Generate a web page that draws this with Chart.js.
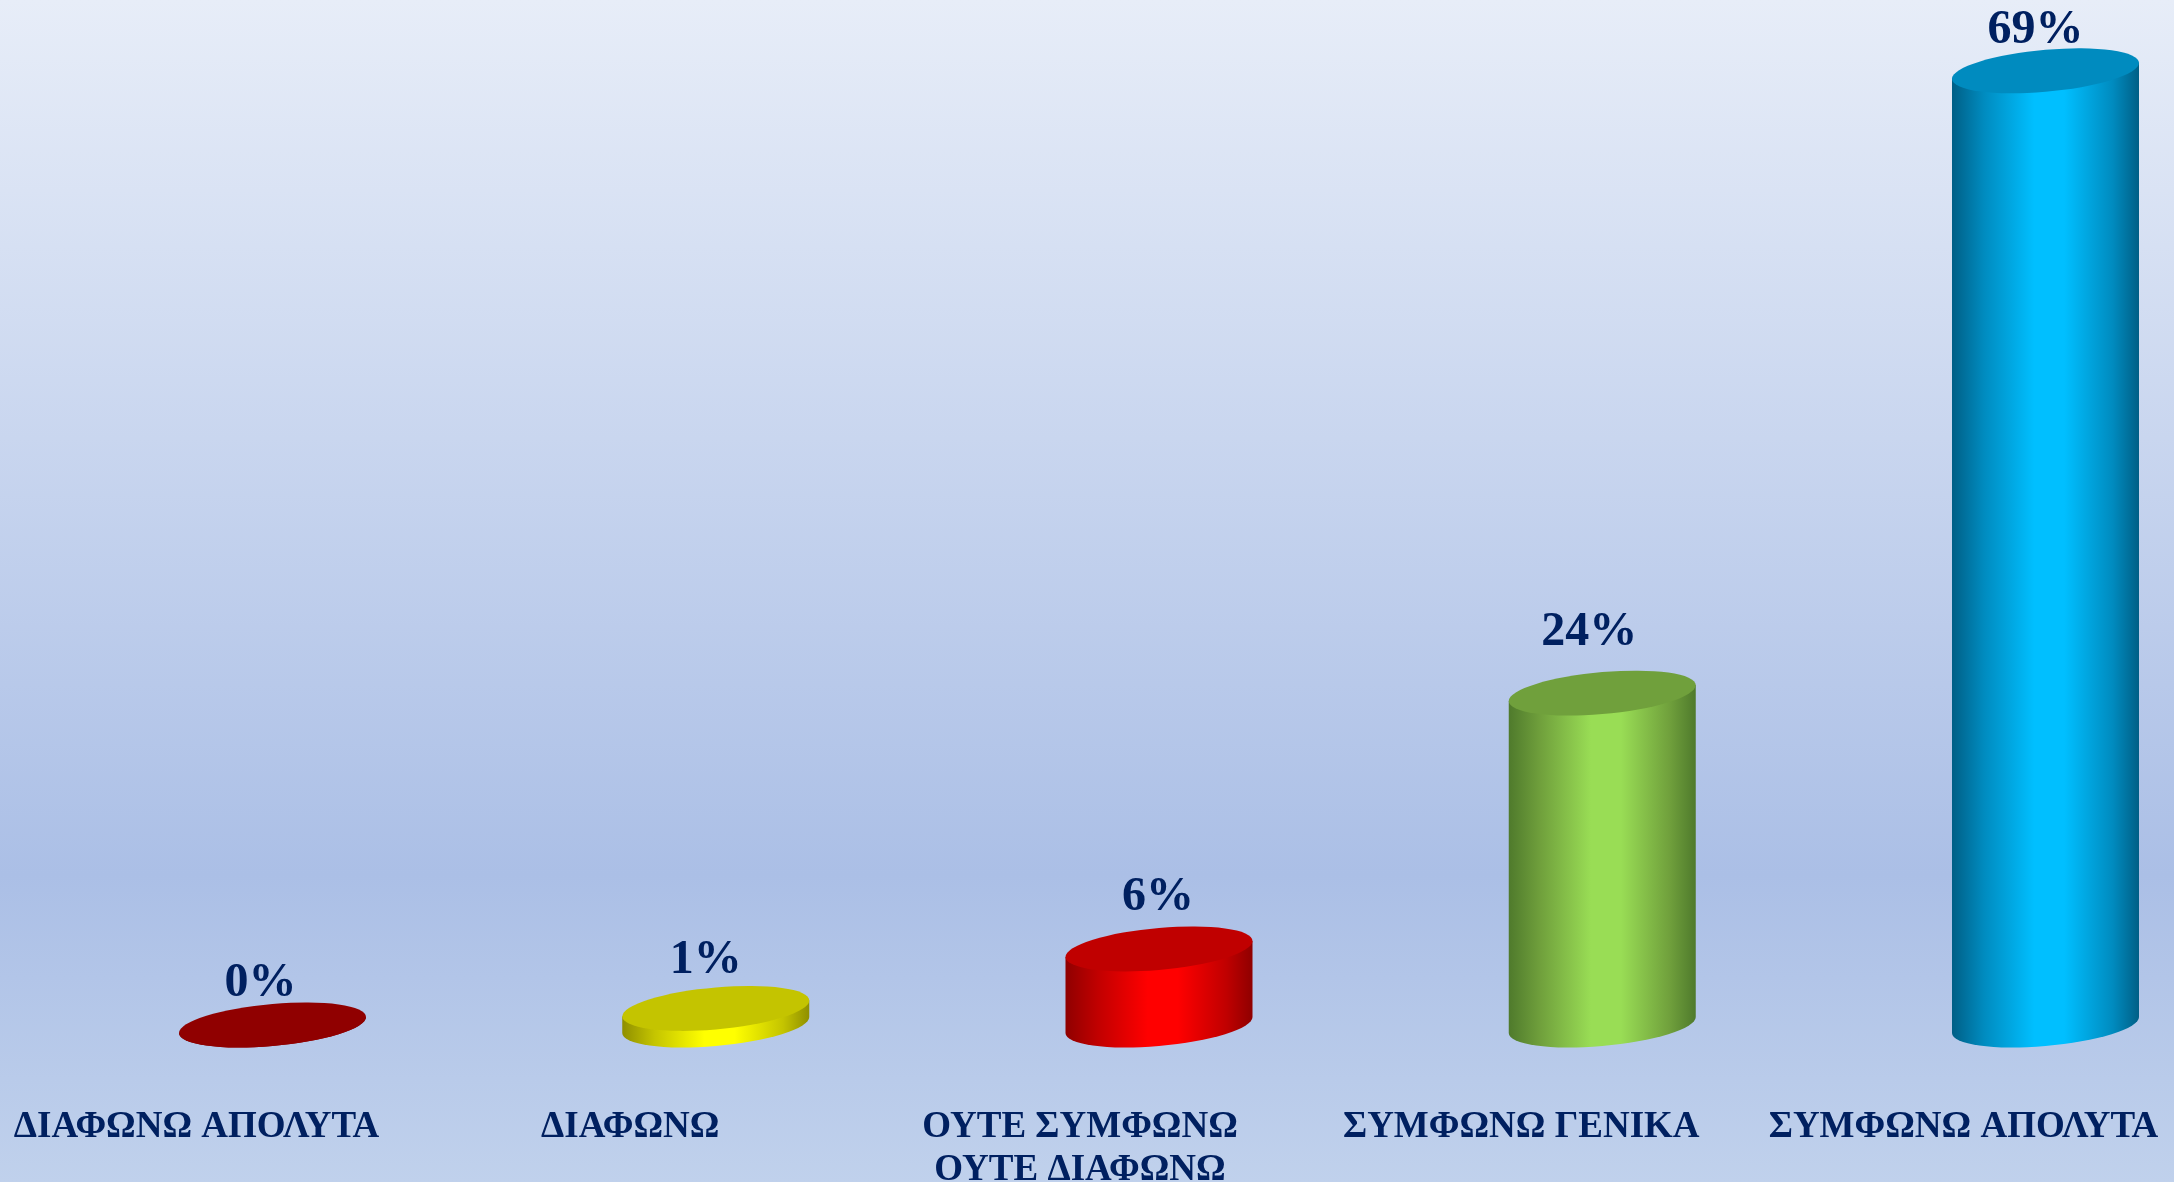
<!DOCTYPE html>
<html><head><meta charset="utf-8">
<style>html,body{margin:0;padding:0;background:#c0d1ec;overflow:hidden}canvas{display:block}</style>
<script src="https://cdn.jsdelivr.net/npm/chart.js@4/dist/chart.umd.js"></script>
</head><body><canvas id="c" width="2174" height="1182"></canvas>
<script>
const categories = ["ΔΙΑΦΩΝΩ ΑΠΟΛΥΤΑ","ΔΙΑΦΩΝΩ",["ΟΥΤΕ ΣΥΜΦΩΝΩ","ΟΥΤΕ ΔΙΑΦΩΝΩ"],"ΣΥΜΦΩΝΩ ΓΕΝΙΚΑ","ΣΥΜΦΩΝΩ ΑΠΟΛΥΤΑ"];
const values = [0, 1.2, 5.5, 24, 69];
const sideColors = ["#900000","#ffff00","#ff0000","#99dd55","#00bfff"];
const edgeColors = ["#600000","#8f8f00","#8f0000","#4f7a2c","#005f86"];
const topColors = ["#900000","#c4c400","#c00000","#70a03c","#008bbf"];
const tickNudges = [4,-5.5,1,-1,-2];
const valueLabelDx = [-12,-10,-1,-13,-10];
const valueLabelDy = [-29,-35,-39,-48,-28];
const ink = "#002060";

Chart.BarElement.prototype.draw = function (ctx) {
  const i = this.$context.dataIndex, a = this.width / 2, ry = 21;
  const shear = -8 / 93.5;
  const top = this.y, base = this.base;
  ctx.save();
  const g = ctx.createLinearGradient(this.x - a, 0, this.x + a, 0);
  g.addColorStop(0, edgeColors[i]);
  g.addColorStop(0.17, topColors[i]);
  g.addColorStop(0.44, sideColors[i]);
  g.addColorStop(0.6, sideColors[i]);
  g.addColorStop(0.86, topColors[i]);
  g.addColorStop(1, edgeColors[i]);
  ctx.save();
  ctx.transform(1, shear, 0, 1, this.x, 0);
  ctx.beginPath();
  ctx.moveTo(-a, top);
  ctx.lineTo(-a, base);
  ctx.ellipse(0, base, a, ry, 0, Math.PI, 0, true);
  ctx.lineTo(a, top);
  ctx.closePath();
  ctx.restore();
  ctx.fillStyle = g;
  ctx.fill();
  ctx.transform(1, shear, 0, 1, this.x, 0);
  ctx.beginPath();
  ctx.ellipse(0, top, a, ry, 0, 0, Math.PI * 2);
  ctx.fillStyle = topColors[i];
  ctx.fill();
  ctx.restore();
};

const background = {
  id: "background",
  beforeDraw(chart) {
    const { ctx, width, height } = chart;
    const g = ctx.createLinearGradient(0, 0, 0, height);
    g.addColorStop(0, "#e7edf8");
    g.addColorStop(0.74, "#abbfe6");
    g.addColorStop(1, "#c0d1ec");
    ctx.fillStyle = g;
    ctx.fillRect(0, 0, width, height);
  }
};
const valueLabels = {
  id: "valueLabels",
  afterDatasetsDraw(chart) {
    const { ctx } = chart;
    ctx.save();
    ctx.font = "bold 48px 'Liberation Serif'";
    ctx.fillStyle = ink;
    ctx.textAlign = "center";
    ctx.textBaseline = "alphabetic";
    chart.getDatasetMeta(0).data.forEach((el, i) => {
      ctx.fillText(Math.round(values[i]) + "%", el.x + valueLabelDx[i], el.y + valueLabelDy[i]);
    });
    ctx.restore();
  }
};
const tickShift = {
  id: "tickShift",
  beforeDraw(chart) {
    const s = chart.scales.x;
    const items = s.getLabelItems();
    if (s.$shifted === items) return;
    items.forEach((it, i) => { it.options.translation[0] += tickNudges[i]; });
    s.$shifted = items;
  }
};

new Chart(document.getElementById("c"), {
  type: "bar",
  data: { labels: categories, datasets: [{ data: values, backgroundColor: sideColors, barThickness: 187, clip: false }] },
  plugins: [background, tickShift, valueLabels],
  options: {
    responsive: false, animation: false,
    layout: { padding: { left: 272.5, right: 128.5, top: 57, bottom: 0 } },
    plugins: { legend: { display: false }, tooltip: { enabled: false } },
    scales: {
      x: {
        offset: false,
        border: { display: false },
        grid: { display: false, drawTicks: false },
        ticks: { autoSkip: false, maxRotation: 0, minRotation: 0, labelOffset: -80, padding: 81, color: ink,
                 font: { family: "'Liberation Serif'", weight: "bold", size: 37, lineHeight: 1.17 } },
        afterFit(s) { s.height = 157; s.paddingLeft = 0; s.paddingRight = 0; }
      },
      y: { display: false, min: 0, max: 70 }
    }
  }
});
</script></body></html>
